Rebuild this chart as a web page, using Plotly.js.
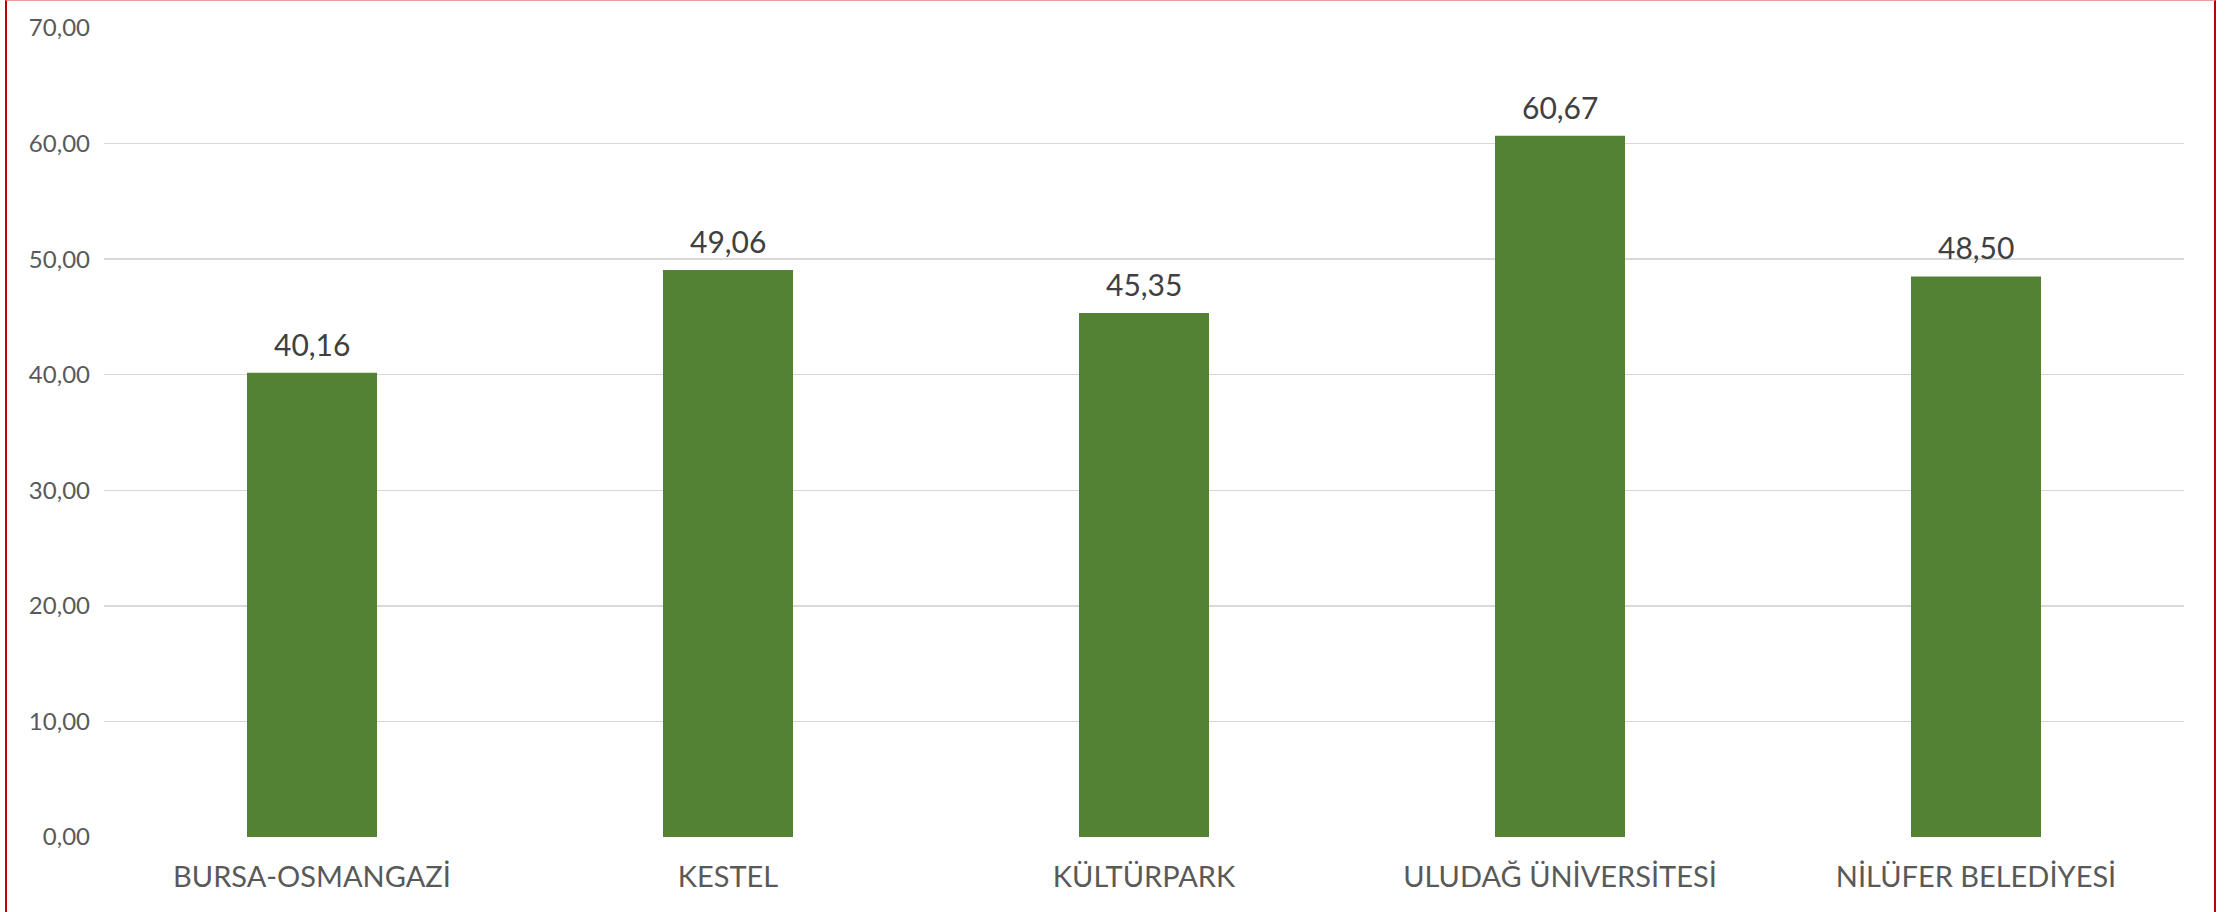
<!DOCTYPE html>
<html>
<head>
<meta charset="utf-8">
<script src="https://cdn.plot.ly/plotly-3.0.1.min.js"></script>
<style>
  html, body { margin: 0; padding: 0; background: #ffffff; }
  #wrap { position: relative; width: 2229px; height: 912px; }
  #chart { position: absolute; left: 0; top: 0; width: 2229px; height: 912px; }
  #frame { position: absolute; left: 5px; top: 0; width: 2207px; height: 920px;
           border-left: 2px solid #c00000; border-right: 2px solid #c00000;
           border-top: 1px solid #e8a0a0; pointer-events: none; box-sizing: content-box; }
</style>
</head>
<body>
<div id="wrap">
  <div id="chart"></div>
  <div id="frame"></div>
</div>
<script>
const categories = ["BURSA-OSMANGAZİ", "KESTEL", "KÜLTÜRPARK", "ULUDAĞ ÜNİVERSİTESİ", "NİLÜFER BELEDİYESİ"];
const values = [40.16, 49.06, 45.35, 60.67, 48.50];
const tickValues = [0, 10, 20, 30, 40, 50, 60, 70];
const tickLabels = ["0,00", "10,00", "20,00", "30,00", "40,00", "50,00", "60,00", "70,00"];
const valueLabels = values.map(v => v.toFixed(2).replace(".", ","));

const trace = {
  type: "bar",
  x: categories,
  y: values,
  marker: { color: "#548235", line: { width: 0 } },
  hoverinfo: "skip"
};

const annotations = categories.map((c, i) => ({
  x: c,
  y: values[i],
  xref: "x",
  yref: "y",
  text: valueLabels[i],
  showarrow: false,
  yanchor: "bottom",
  yshift: 9,
  font: { family: "Lato, sans-serif", size: 30, color: "#404040" }
}));

const layout = {
  width: 2229,
  height: 912,
  margin: { l: 104, r: 45, t: 28, b: 75 },
  paper_bgcolor: "#ffffff",
  plot_bgcolor: "#ffffff",
  bargap: 0.6875,
  showlegend: false,
  annotations: annotations,
  font: { family: "Lato, sans-serif", color: "#595959" },
  xaxis: {
    type: "category",
    showgrid: false,
    showline: false,
    zeroline: false,
    ticks: "",
    tickfont: { family: "Lato, sans-serif", size: 29, color: "#595959" },
    ticklabelstandoff: 20
  },
  yaxis: {
    range: [0, 70],
    tickmode: "array",
    tickvals: tickValues,
    ticktext: tickLabels,
    showgrid: true,
    gridcolor: "#d9d9d9",
    gridwidth: 1.5,
    zeroline: false,
    showline: false,
    ticks: "",
    ticklabelstandoff: 13,
    tickfont: { family: "Lato, sans-serif", size: 24, color: "#595959" }
  }
};

Plotly.newPlot("chart", [trace], layout, { displayModeBar: false, staticPlot: true });
</script>
</body>
</html>
